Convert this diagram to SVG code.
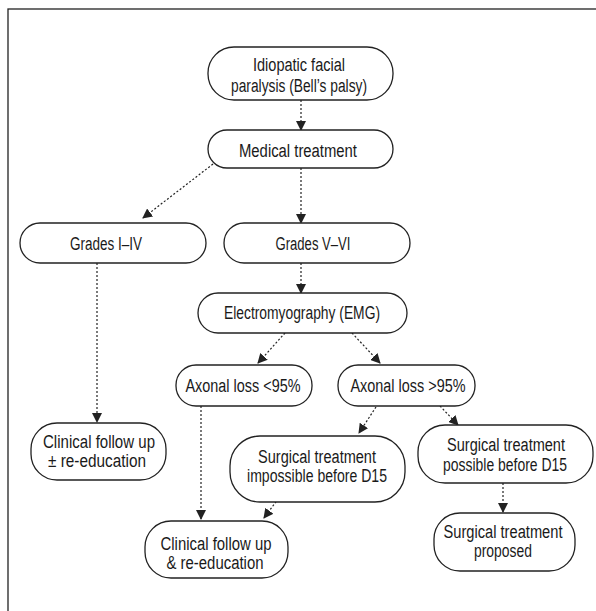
<svg xmlns="http://www.w3.org/2000/svg" width="596" height="611" viewBox="0 0 596 611">
<style>
.n{fill:#fff;stroke:#222;stroke-width:1.3}
.t{font-family:"Liberation Sans",Arial,sans-serif;font-size:18px;fill:#1a1a1a;text-anchor:middle}
.c{stroke:#222;stroke-width:1.2;stroke-dasharray:2,2;fill:none;marker-end:url(#ah)}
</style>
<defs>
<marker id="ah" markerWidth="10" markerHeight="10" refX="9" refY="5" orient="auto" markerUnits="userSpaceOnUse">
<path d="M0,0 L10,5 L0,10 Z" fill="#222"/>
</marker>
</defs>
<rect x="8" y="9" width="620" height="640" fill="#fff" stroke="#222" stroke-width="1.3"/>
<g id="connectors">
<line class="c" x1="301" y1="100" x2="301" y2="130"/>
<line class="c" x1="213" y1="164" x2="143" y2="218"/>
<line class="c" x1="301" y1="168" x2="301" y2="223"/>
<line class="c" x1="301" y1="263" x2="301" y2="293"/>
<line class="c" x1="285" y1="333" x2="258" y2="363"/>
<line class="c" x1="352" y1="333" x2="380" y2="363"/>
<line class="c" x1="97" y1="263" x2="97" y2="422"/>
<line class="c" x1="201" y1="406" x2="201" y2="519"/>
<line class="c" x1="376" y1="407" x2="359" y2="433"/>
<line class="c" x1="440" y1="406" x2="458" y2="425"/>
<line class="c" x1="281" y1="495" x2="264" y2="518"/>
<line class="c" x1="503" y1="483" x2="503" y2="512"/>
</g>
<g id="n1"><rect class="n" x="208" y="47" width="185" height="53" rx="26"/>
<text class="t" x="299" y="71" textLength="92" lengthAdjust="spacingAndGlyphs">Idiopatic facial</text><text class="t" x="299" y="92" textLength="136" lengthAdjust="spacingAndGlyphs">paralysis (Bell’s palsy)</text></g>
<g id="n2"><rect class="n" x="208" y="130" width="185" height="38" rx="19"/>
<text class="t" x="298" y="157" textLength="118" lengthAdjust="spacingAndGlyphs">Medical treatment</text></g>
<g id="n3"><rect class="n" x="20" y="223" width="186" height="40" rx="20"/>
<text class="t" x="106" y="250" textLength="72" lengthAdjust="spacingAndGlyphs">Grades I–IV</text></g>
<g id="n4"><rect class="n" x="224" y="223" width="186" height="40" rx="20"/>
<text class="t" x="313" y="250" textLength="75" lengthAdjust="spacingAndGlyphs">Grades V–VI</text></g>
<g id="n5"><rect class="n" x="198" y="293" width="209" height="40" rx="20"/>
<text class="t" x="302" y="319" textLength="156" lengthAdjust="spacingAndGlyphs">Electromyography (EMG)</text></g>
<g id="n6"><rect class="n" x="176" y="365" width="136" height="41" rx="20"/>
<text class="t" x="243" y="392" textLength="115" lengthAdjust="spacingAndGlyphs">Axonal loss &lt;95%</text></g>
<g id="n7"><rect class="n" x="338" y="365" width="137" height="41" rx="20"/>
<text class="t" x="408" y="392" textLength="115" lengthAdjust="spacingAndGlyphs">Axonal loss &gt;95%</text></g>
<g id="n8"><rect class="n" x="31" y="423" width="135" height="57" rx="26"/>
<text class="t" x="99" y="448" textLength="112" lengthAdjust="spacingAndGlyphs">Clinical follow up</text><text class="t" x="97" y="467" textLength="98" lengthAdjust="spacingAndGlyphs">± re-education</text></g>
<g id="n9"><rect class="n" x="230" y="436" width="175" height="66" rx="30"/>
<text class="t" x="317" y="463" textLength="118" lengthAdjust="spacingAndGlyphs">Surgical treatment</text><text class="t" x="317" y="482" textLength="140" lengthAdjust="spacingAndGlyphs">impossible before D15</text></g>
<g id="n10"><rect class="n" x="418" y="425" width="175" height="58" rx="27"/>
<text class="t" x="506" y="451" textLength="118" lengthAdjust="spacingAndGlyphs">Surgical treatment</text><text class="t" x="505" y="471" textLength="124" lengthAdjust="spacingAndGlyphs">possible before D15</text></g>
<g id="n11"><rect class="n" x="145" y="521" width="143" height="57" rx="26"/>
<text class="t" x="216" y="550" textLength="111" lengthAdjust="spacingAndGlyphs">Clinical follow up</text><text class="t" x="215" y="569" textLength="97" lengthAdjust="spacingAndGlyphs">&amp; re-education</text></g>
<g id="n12"><rect class="n" x="434" y="513" width="141" height="58" rx="26"/>
<text class="t" x="503" y="538" textLength="119" lengthAdjust="spacingAndGlyphs">Surgical treatment</text><text class="t" x="503" y="557" textLength="58" lengthAdjust="spacingAndGlyphs">proposed</text></g>
</svg>
